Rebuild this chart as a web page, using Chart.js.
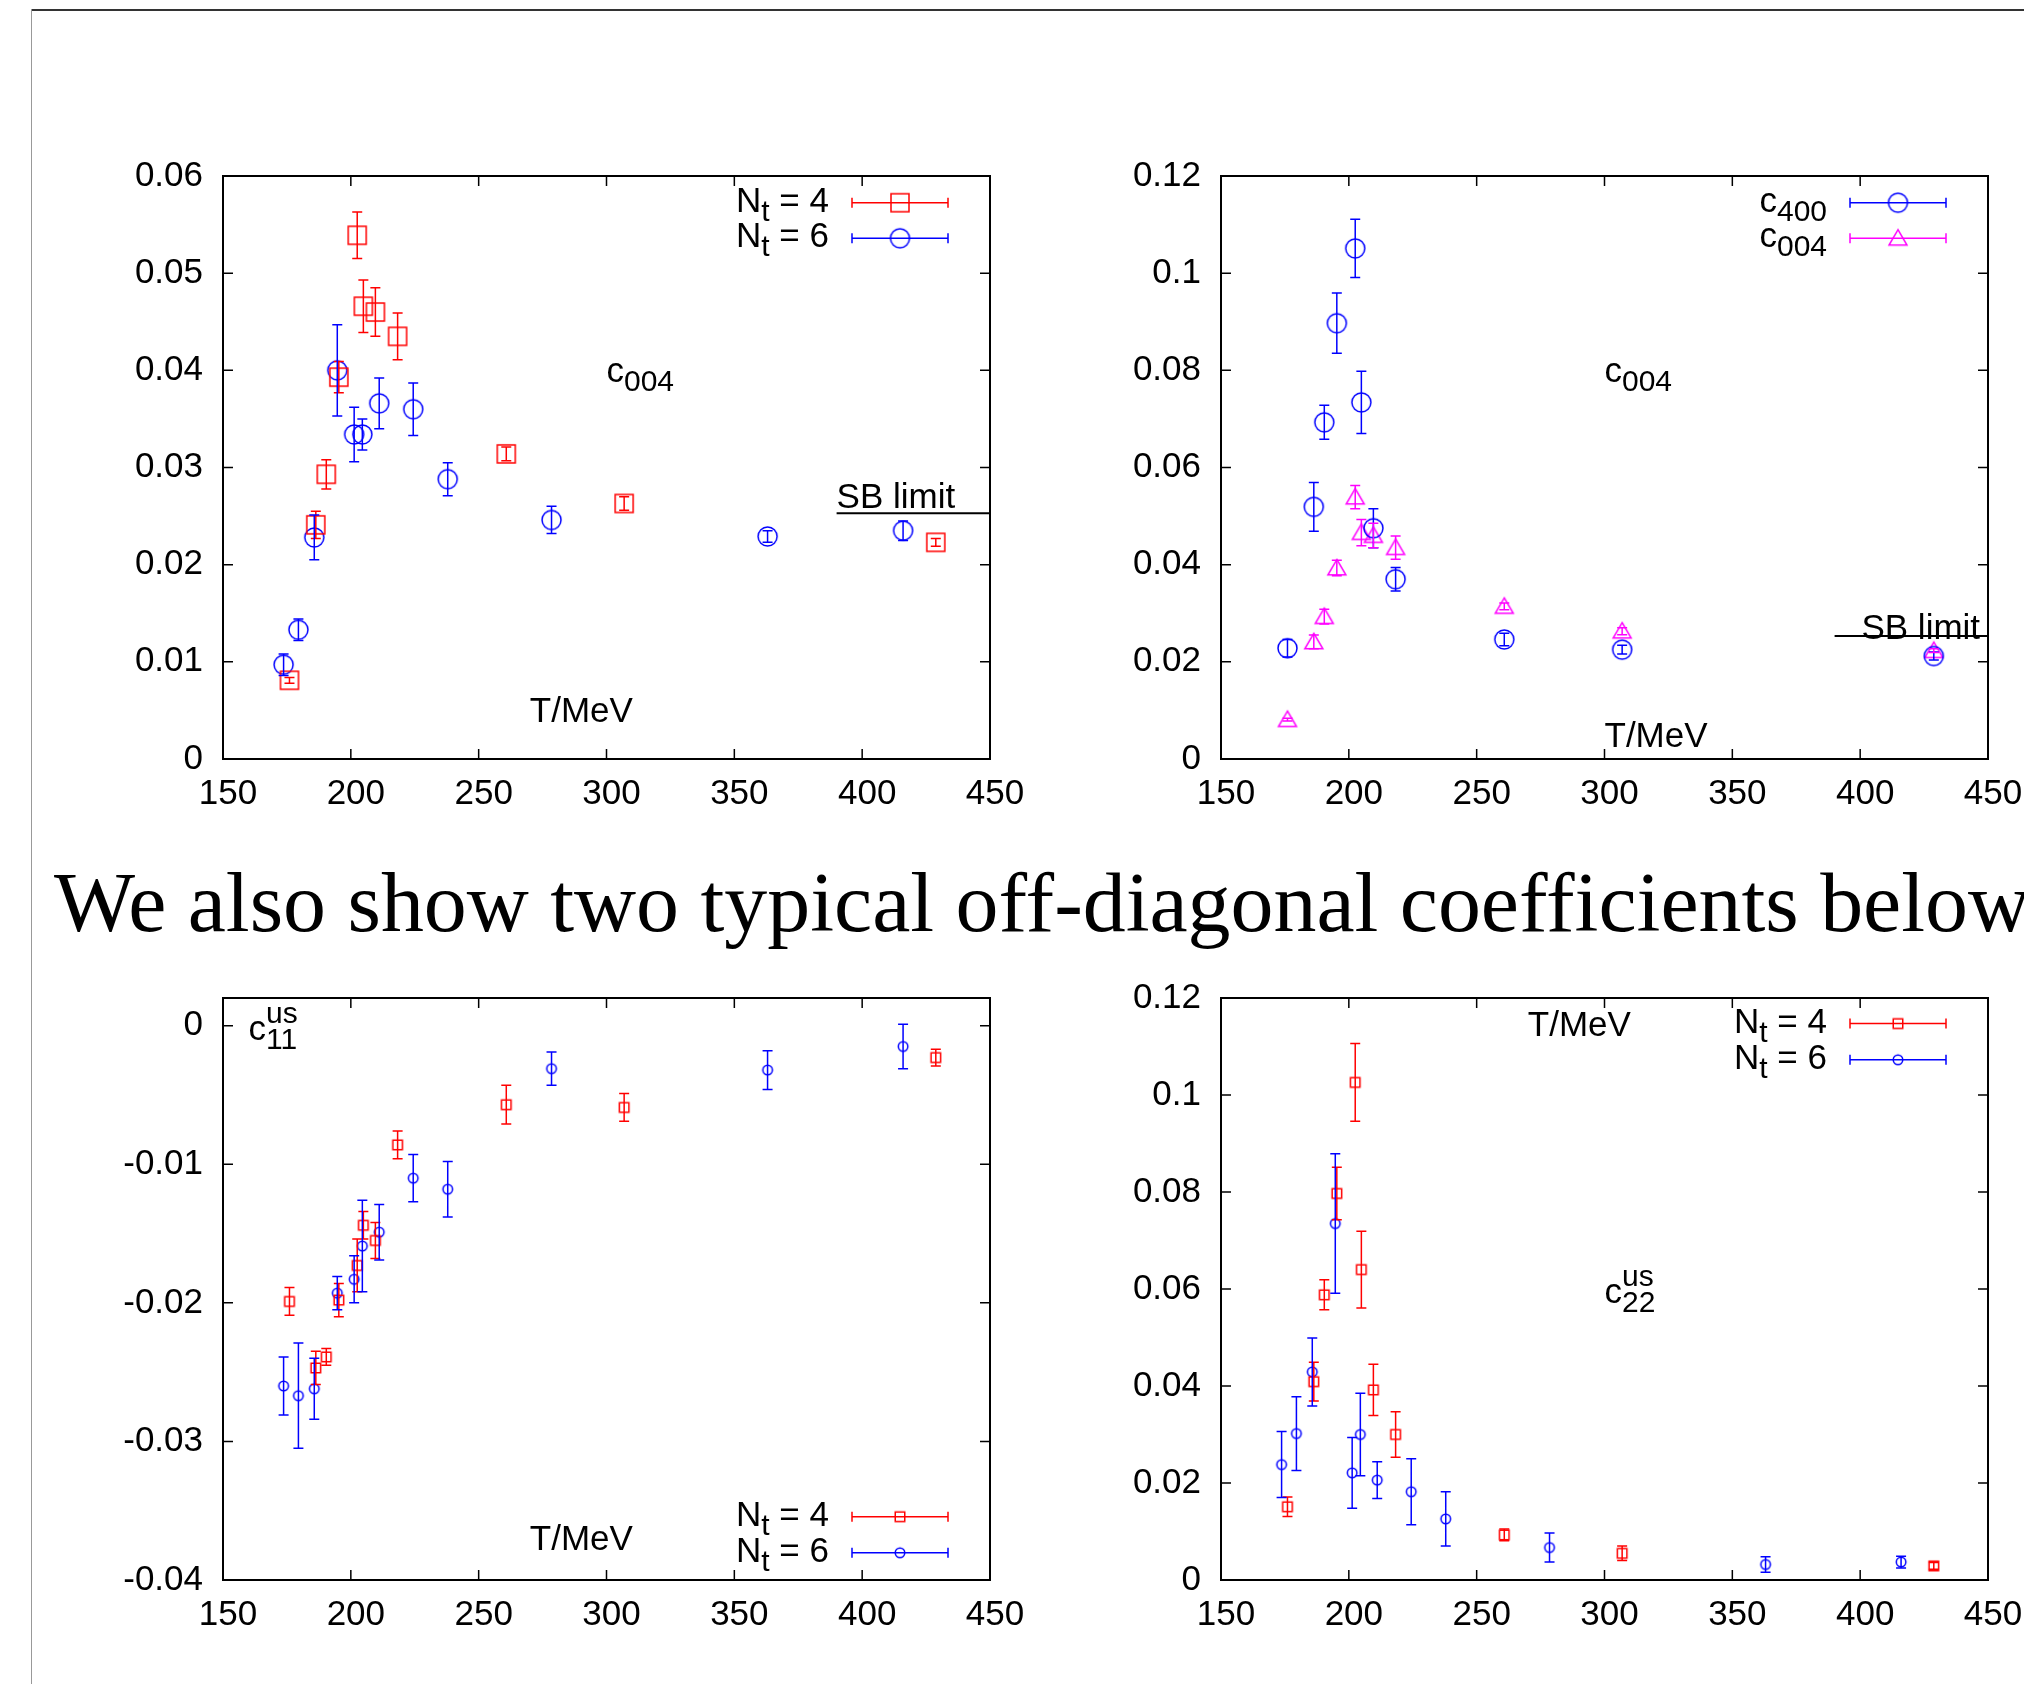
<!DOCTYPE html>
<html>
<head>
<meta charset="utf-8">
<title>c004 and off-diagonal coefficients</title>
<script src="https://cdn.jsdelivr.net/npm/chart.js@4.4.1/dist/chart.umd.min.js"></script>
<style>
  html, body { margin: 0; padding: 0; background: #fff; }
  body { position: relative; width: 2024px; height: 1684px; overflow: hidden; }
  .rule-top { position: absolute; left: 31px; top: 9px; width: 1993px; height: 2px; background: #333; }
  .rule-left { position: absolute; left: 31px; top: 9px; width: 1px; height: 1675px; background: #999; }
  canvas { position: absolute; }
</style>
</head>
<body>
<div class="rule-top"></div>
<div class="rule-left"></div>
<canvas id="caption" width="2024" height="130" style="left:0;top:840px"></canvas>
<canvas id="p1"></canvas>
<canvas id="p2"></canvas>
<canvas id="p3"></canvas>
<canvas id="p4"></canvas>
<script>
// --- data ---
const tempNt4 = [176.0, 186.3, 190.4, 195.3, 202.5, 204.9, 209.6, 218.3, 260.8, 306.9, 428.8];
const tempNt6 = [173.7, 179.5, 185.7, 194.7, 201.3, 204.5, 211.1, 224.4, 237.9, 278.5, 363.0, 416.0];

// c004
const c004Nt4    = [0.0081, 0.0241, 0.0293, 0.0393, 0.0539, 0.0466, 0.0460, 0.0435, 0.0314, 0.0263, 0.0223];
const c004Nt4Err = [0.0003, 0.0014, 0.0015, 0.0016, 0.0024, 0.0027, 0.0025, 0.0024, 0.0007, 0.0007, 0.0004];
const c004Nt6    = [0.0097, 0.0133, 0.0228, 0.0400, 0.0334, 0.0334, 0.0366, 0.0360, 0.0288, 0.0246, 0.0229, 0.0235];
const c004Nt6Err = [0.0011, 0.0011, 0.0023, 0.0047, 0.0028, 0.0016, 0.0026, 0.0027, 0.0017, 0.0014, 0.0006, 0.0010];

// c400 (Nt = 4)
const c400Nt4    = [0.0228, 0.0519, 0.0693, 0.0897, 0.1051, 0.0734, 0.0475, 0.0370, 0.0246, 0.0225, 0.0212];
const c400Nt4Err = [0.0018, 0.0050, 0.0035, 0.0062, 0.0060, 0.0064, 0.0040, 0.0024, 0.0013, 0.0009, 0.0008];

// c11 us
const c11Nt4    = [-0.0199, -0.0247, -0.0239, -0.0198, -0.0173, -0.0144, -0.0155, -0.0086, -0.0057, -0.0059, -0.0023];
const c11Nt4Err = [0.0010, 0.0012, 0.0006, 0.0012, 0.0019, 0.0010, 0.0013, 0.0010, 0.0014, 0.0010, 0.0006];
const c11Nt6    = [-0.0260, -0.0267, -0.0262, -0.0193, -0.0183, -0.0159, -0.0149, -0.0110, -0.0118, -0.0031, -0.0032, -0.0015];
const c11Nt6Err = [0.0021, 0.0038, 0.0022, 0.0012, 0.0017, 0.0033, 0.0020, 0.0017, 0.0020, 0.0012, 0.0014, 0.0016];

// c22 us
const c22Nt4    = [0.0151, 0.0409, 0.0588, 0.0797, 0.1026, 0.0640, 0.0392, 0.0300, 0.0093, 0.0055, 0.0029];
const c22Nt4Err = [0.0020, 0.0040, 0.0031, 0.0054, 0.0080, 0.0079, 0.0053, 0.0047, 0.0012, 0.0015, 0.0007];
const c22Nt6    = [0.0238, 0.0302, 0.0429, 0.0735, 0.0221, 0.0300, 0.0206, 0.0182, 0.0126, 0.0067, 0.0032, 0.0037];
const c22Nt6Err = [0.0068, 0.0076, 0.0070, 0.0144, 0.0073, 0.0085, 0.0038, 0.0068, 0.0056, 0.0030, 0.0016, 0.0012];

// Stefan-Boltzmann limit
const sbT = [390, 450];
const sbC004 = [0.0253, 0.0253];

// ticks
const xTicks = [150, 200, 250, 300, 350, 400, 450];
const xTickLabels = ['150', '200', '250', '300', '350', '400', '450'];
const yTicksC004 = [0, 0.01, 0.02, 0.03, 0.04, 0.05, 0.06];
const yLabelsC004 = ['0', '0.01', '0.02', '0.03', '0.04', '0.05', '0.06'];
const yTicksWide = [0, 0.02, 0.04, 0.06, 0.08, 0.1, 0.12];
const yLabelsWide = ['0', '0.02', '0.04', '0.06', '0.08', '0.1', '0.12'];
const yTicksC11 = [-0.04, -0.03, -0.02, -0.01, 0];
const yLabelsC11 = ['-0.04', '-0.03', '-0.02', '-0.01', '0'];

const captionText = 'We also show two typical off-diagonal coefficients below';

// --- styling ---
const FONT = '"Liberation Sans", Arial, sans-serif';
const FS = 35;
const SUB = 30;
const RED = '#ff0000', BLUE = '#0000ff', MAGENTA = '#ff00ff';
const ML = 130, MT = 60, MR = 60, MB = 70;

function marker(shape, size, color) {
    const c = document.createElement('canvas');
    const n = Math.ceil(size) + 6;
    c.width = c.height = n;
    const g = c.getContext('2d');
    const m = n / 2, h = size / 2;
    g.strokeStyle = color;
    g.lineWidth = 1.5;
    g.beginPath();
    if (shape === 'square') {
        g.rect(m - h, m - h, size, size);
    } else if (shape === 'circle') {
        g.arc(m, m, h, 0, Math.PI * 2);
    } else {
        g.moveTo(m, m - h * 0.95);
        g.lineTo(m + h, m + h * 0.75);
        g.lineTo(m - h, m + h * 0.75);
        g.closePath();
    }
    g.stroke();
    return c;
}

function points(xs, ys) {
    return xs.map((x, i) => ({ x: x, y: ys[i] }));
}

function series(label, xs, ys, errs, color, style) {
    return {
        label: label,
        data: points(xs, ys),
        errors: errs,
        errColor: color,
        pointStyle: style,
        pointRadius: 10,
        showLine: false
    };
}

function richWidth(ctx, parts) {
    let w = 0;
    parts.forEach(p => {
        if (p.t) {
            ctx.font = FS + 'px ' + FONT;
            p._w = ctx.measureText(p.t).width;
        } else {
            ctx.font = SUB + 'px ' + FONT;
            p._w = Math.max(p.sub ? ctx.measureText(p.sub).width : 0, p.sup ? ctx.measureText(p.sup).width : 0);
        }
        w += p._w;
    });
    return w;
}

function drawRich(ctx, x, base, parts, align) {
    const w = richWidth(ctx, parts);
    let cx = align === 'right' ? x - w : x;
    ctx.fillStyle = '#000';
    ctx.textAlign = 'left';
    ctx.textBaseline = 'alphabetic';
    parts.forEach(p => {
        if (p.t) {
            ctx.font = FS + 'px ' + FONT;
            ctx.fillText(p.t, cx, base);
        } else {
            ctx.font = SUB + 'px ' + FONT;
            if (p.sub) ctx.fillText(p.sub, cx, base + 9);
            if (p.sup) ctx.fillText(p.sup, cx, base - 17);
        }
        cx += p._w;
    });
}

// error bars, labels, legend and the gnuplot style frame
function gnuplotLook(texts, legend) {
    return {
        id: 'gnuplotLook',
        afterDatasetsDraw(chart) {
            const { ctx, chartArea: a } = chart;
            const xs = chart.scales.x, ys = chart.scales.y;
            ctx.save();
            ctx.beginPath();
            ctx.rect(a.left, a.top, a.right - a.left, a.bottom - a.top);
            ctx.clip();
            ctx.lineWidth = 1.5;
            chart.data.datasets.forEach(ds => {
                if (!ds.errors) return;
                ctx.strokeStyle = ds.errColor;
                ctx.beginPath();
                ds.data.forEach((p, i) => {
                    const px = xs.getPixelForValue(p.x);
                    const y1 = ys.getPixelForValue(p.y + ds.errors[i]);
                    const y2 = ys.getPixelForValue(p.y - ds.errors[i]);
                    ctx.moveTo(px, y1); ctx.lineTo(px, y2);
                    ctx.moveTo(px - 5, y1); ctx.lineTo(px + 5, y1);
                    ctx.moveTo(px - 5, y2); ctx.lineTo(px + 5, y2);
                });
                ctx.stroke();
            });
            ctx.restore();
        },
        afterDraw(chart) {
            const { ctx, chartArea: a } = chart;
            const xs = chart.scales.x, ys = chart.scales.y;
            ctx.save();
            // frame
            ctx.strokeStyle = '#000';
            ctx.lineWidth = 2;
            ctx.strokeRect(a.left, a.top, a.right - a.left, a.bottom - a.top);
            ctx.lineWidth = 1.5;
            ctx.beginPath();
            xs.ticks.forEach(t => {
                const px = xs.getPixelForValue(t.value);
                ctx.moveTo(px, a.bottom); ctx.lineTo(px, a.bottom - 10);
                ctx.moveTo(px, a.top); ctx.lineTo(px, a.top + 10);
            });
            ys.ticks.forEach(t => {
                const py = ys.getPixelForValue(t.value);
                ctx.moveTo(a.left, py); ctx.lineTo(a.left + 10, py);
                ctx.moveTo(a.right, py); ctx.lineTo(a.right - 10, py);
            });
            ctx.stroke();

            // labels placed at data coordinates
            texts.forEach(t => {
                drawRich(ctx, xs.getPixelForValue(t.x), ys.getPixelForValue(t.y) + 12, t.parts, 'left');
            });

            // key
            legend.rows.forEach((r, i) => {
                const y = legend.at === 'bottom' ? a.bottom - legend.offsets[1 - i] : a.top + legend.offsets[i];
                drawRich(ctx, a.right - 161, y + 9, r.parts, 'right');
                ctx.strokeStyle = r.color;
                ctx.lineWidth = 1.5;
                ctx.beginPath();
                ctx.moveTo(a.right - 138, y); ctx.lineTo(a.right - 42, y);
                ctx.moveTo(a.right - 138, y - 5); ctx.lineTo(a.right - 138, y + 5);
                ctx.moveTo(a.right - 42, y - 5); ctx.lineTo(a.right - 42, y + 5);
                ctx.stroke();
                ctx.drawImage(r.marker, a.right - 90 - r.marker.width / 2, y - r.marker.height / 2);
            });
            ctx.restore();
        }
    };
}

function makePanel(id, box, yMin, yMax, yTicks, yLabels, datasets, texts, legend) {
    const cv = document.getElementById(id);
    cv.width = box.R - box.L + ML + MR;
    cv.height = box.B - box.T + MT + MB;
    cv.style.left = (box.L - ML) + 'px';
    cv.style.top = (box.T - MT) + 'px';
    const tickFont = { family: FONT, size: FS };
    return new Chart(cv, {
        type: 'scatter',
        data: { datasets: datasets },
        options: {
            responsive: false,
            animation: false,
            devicePixelRatio: 1,
            layout: { padding: { top: MT, right: MR, left: 0, bottom: 0 } },
            plugins: { legend: { display: false }, tooltip: { enabled: false } },
            scales: {
                x: {
                    type: 'linear', min: 150, max: 450,
                    afterBuildTicks: s => { s.ticks = xTicks.map(v => ({ value: v })); },
                    afterFit: s => { s.height = MB; },
                    grid: { display: false, drawTicks: false },
                    border: { display: false },
                    ticks: {
                        callback: (v, i) => xTickLabels[i],
                        font: tickFont, color: '#000', padding: 14,
                        labelOffset: 5, maxRotation: 0, autoSkip: false
                    }
                },
                y: {
                    type: 'linear', min: yMin, max: yMax,
                    afterBuildTicks: s => { s.ticks = yTicks.map(v => ({ value: v })); },
                    afterFit: s => { s.width = ML; },
                    grid: { display: false, drawTicks: false },
                    border: { display: false },
                    ticks: {
                        callback: (v, i) => yLabels[i],
                        font: tickFont, color: '#000', padding: 20, autoSkip: false
                    }
                }
            }
        },
        plugins: [gnuplotLook(texts, legend)]
    });
}

// markers
const bigSquareRed = marker('square', 18, RED);
const bigCircleBlue = marker('circle', 19, BLUE);
const bigTriMagenta = marker('triangle', 18, MAGENTA);
const smallSquareRed = marker('square', 9.5, RED);
const smallCircleBlue = marker('circle', 9.5, BLUE);

const ntLabel = n => [{ t: 'N' }, { sub: 't' }, { t: ' = ' + n }];
const tMeV = [{ t: 'T/MeV' }];
const sbLabel = [{ t: 'SB limit' }];

function sbLine() {
    return {
        label: 'SB limit',
        data: points(sbT, sbC004),
        showLine: true,
        borderColor: '#000',
        borderWidth: 2,
        pointRadius: 0
    };
}

// top left: c004 for Nt = 4 and 6
makePanel('p1', { L: 223, T: 176, R: 990, B: 759 }, 0, 0.06, yTicksC004, yLabelsC004, [
    series('Nt = 4', tempNt4, c004Nt4, c004Nt4Err, RED, bigSquareRed),
    series('Nt = 6', tempNt6, c004Nt6, c004Nt6Err, BLUE, bigCircleBlue),
    sbLine()
], [
    { x: 300, y: 0.04, parts: [{ t: 'c' }, { sub: '004' }] },
    { x: 270, y: 0.005, parts: tMeV },
    { x: 390, y: 0.0271, parts: sbLabel }
], {
    at: 'top', offsets: [26.7, 62.3],
    rows: [
        { parts: ntLabel(4), color: RED, marker: bigSquareRed },
        { parts: ntLabel(6), color: BLUE, marker: bigCircleBlue }
    ]
});

// top right: c400 vs c004 at Nt = 4
makePanel('p2', { L: 1221, T: 176, R: 1988, B: 759 }, 0, 0.12, yTicksWide, yLabelsWide, [
    series('c400', tempNt4, c400Nt4, c400Nt4Err, BLUE, bigCircleBlue),
    series('c004', tempNt4, c004Nt4, c004Nt4Err, MAGENTA, bigTriMagenta),
    sbLine()
], [
    { x: 300, y: 0.08, parts: [{ t: 'c' }, { sub: '004' }] },
    { x: 300, y: 0.005, parts: tMeV },
    { x: 400.5, y: 0.0271, parts: sbLabel }
], {
    at: 'top', offsets: [26.7, 62.3],
    rows: [
        { parts: [{ t: 'c' }, { sub: '400' }], color: BLUE, marker: bigCircleBlue },
        { parts: [{ t: 'c' }, { sub: '004' }], color: MAGENTA, marker: bigTriMagenta }
    ]
});

// bottom left: c11 us
makePanel('p3', { L: 223, T: 998, R: 990, B: 1580 }, -0.04, 0.002, yTicksC11, yLabelsC11, [
    series('Nt = 4', tempNt4, c11Nt4, c11Nt4Err, RED, smallSquareRed),
    series('Nt = 6', tempNt6, c11Nt6, c11Nt6Err, BLUE, smallCircleBlue)
], [
    { x: 160, y: -0.0002, parts: [{ t: 'c' }, { sup: 'us', sub: '11' }] },
    { x: 270, y: -0.037, parts: tMeV }
], {
    at: 'bottom', offsets: [27.2, 63.3],
    rows: [
        { parts: ntLabel(4), color: RED, marker: smallSquareRed },
        { parts: ntLabel(6), color: BLUE, marker: smallCircleBlue }
    ]
});

// bottom right: c22 us
makePanel('p4', { L: 1221, T: 998, R: 1988, B: 1580 }, 0, 0.12, yTicksWide, yLabelsWide, [
    series('Nt = 4', tempNt4, c22Nt4, c22Nt4Err, RED, smallSquareRed),
    series('Nt = 6', tempNt6, c22Nt6, c22Nt6Err, BLUE, smallCircleBlue)
], [
    { x: 300, y: 0.0595, parts: [{ t: 'c' }, { sup: 'us', sub: '22' }] },
    { x: 270, y: 0.1147, parts: tMeV }
], {
    at: 'top', offsets: [25.6, 61.8],
    rows: [
        { parts: ntLabel(4), color: RED, marker: smallSquareRed },
        { parts: ntLabel(6), color: BLUE, marker: smallCircleBlue }
    ]
});

// the line of body text between the two rows
(function drawCaption() {
    const cv = document.getElementById('caption');
    const g = cv.getContext('2d');
    g.font = '84px "Liberation Serif", serif';
    g.fillStyle = '#000';
    g.textBaseline = 'alphabetic';
    const w = g.measureText(captionText).width;
    g.save();
    g.translate(54, 91);
    g.scale(1976 / w, 1);
    g.fillText(captionText, 0, 0);
    g.restore();
})();
</script>
</body>
</html>
